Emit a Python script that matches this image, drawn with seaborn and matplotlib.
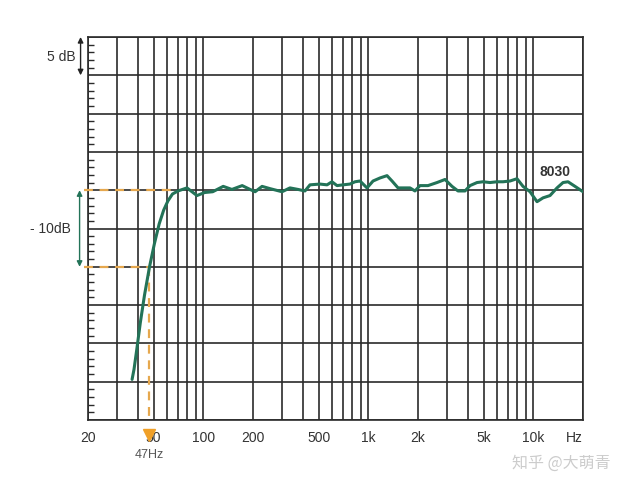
import numpy as np
import pandas as pd
import matplotlib
matplotlib.use("Agg")
import matplotlib.pyplot as plt
import seaborn as sns

# ---- data ----
freq_hz = [37, 38.0, 39.5, 41.5, 44.0, 47.2, 50.5, 54.0, 57.5, 61.0, 65.0, 70.2, 79.6, 91.5,
           102, 114, 132, 149, 172, 192, 206, 227, 254, 300, 335, 375, 413, 443,
           509, 562, 602, 646, 702, 774, 830, 890, 982, 1068, 1178, 1298, 1392,
           1514, 1789, 1917, 2056, 2299, 2608, 2916, 3215, 3496, 3854, 4133, 4558,
           4955, 5463, 6024, 6550, 7222, 7962, 8659, 9550, 10526, 11448, 12619,
           13918, 15136, 16228, 17890, 20000]
level_db = [-24.7, -23.4, -20.8, -17.3, -13.7, -10.0, -7.0, -4.4, -2.6, -1.4, -0.5, -0.1, 0.3, -0.7,
            -0.3, -0.2, 0.5, 0.1, 0.6, 0.1, -0.2, 0.5, 0.2, -0.2, 0.3, 0.1, -0.1, 0.7,
            0.8, 0.7, 1.1, 0.6, 0.7, 0.8, 1.1, 1.2, 0.3, 1.2, 1.6, 1.9, 1.2,
            0.3, 0.3, -0.1, 0.6, 0.6, 1.0, 1.4, 0.5, -0.1, -0.1, 0.6, 1.0,
            1.1, 1.0, 1.1, 1.1, 1.2, 1.5, 0.5, -0.2, -1.5, -1.0, -0.7,
            0.3, 1.0, 1.1, 0.5, -0.2]
tick_freqs = [20, 50, 100, 200, 500, 1000, 2000, 5000, 10000, 20000]
tick_labels = ["20", "50", "100", "200", "500", "1k", "2k", "5k", "10k", "Hz"]
cutoff_hz = 47
model_name = "8030"

df = pd.DataFrame({"freq": freq_hz, "db": level_db})

sns.set_style("white")
plt.rcParams["font.family"] = ["Liberation Sans", "DejaVu Sans"]

fig = plt.figure(figsize=(6.28, 4.91), dpi=100)
ax = fig.add_axes([88/628, 1-420/491, 495/628, 383/491])

GRID = "#2b2b2b"
GREEN = "#237358"
ORANGE = "#E6A84E"

ax.set_xscale("log")
ax.set_xlim(20, 20000)
ax.set_ylim(-30, 20)

# grid positions
minor_x = [v * m for m in (10, 100, 1000) for v in range(2, 10)] + [30, 40, 60, 70, 80, 90]
minor_x = sorted(set(f for f in minor_x if 20 < f < 20000 and f not in tick_freqs))
ax.set_xticks(tick_freqs)
ax.set_xticklabels(tick_labels)
ax.set_xticks(minor_x, minor=True)
ax.xaxis.set_minor_formatter(matplotlib.ticker.NullFormatter())
ax.set_yticks(np.arange(-30, 21, 5))
ax.set_yticklabels([])
ax.set_yticks(np.arange(-30, 21, 1), minor=True)
ax.grid(which="both", axis="x", color=GRID, lw=1.2)
ax.grid(which="major", axis="y", color=GRID, lw=1.2)
ax.tick_params(axis="x", which="both", length=0, pad=8, labelsize=10, labelcolor="#333333")
ax.tick_params(axis="y", which="major", length=0)
ax.tick_params(axis="y", which="minor", direction="in", length=4, width=1.0,
               color=GRID, left=True, right=False)
for lbl in ax.get_xticklabels():
    if lbl.get_text() == "Hz":
        lbl.set_horizontalalignment("right")
for s in ax.spines.values():
    s.set_color(GRID)
    s.set_linewidth(1.2)

# orange dashed guides
meet_hz = 64.6
ax.plot([19.0, meet_hz], [0, 0], ls=(0, (4, 3)), color=ORANGE, lw=1.6,
        clip_on=False, zorder=3)
ax.plot([19.0, cutoff_hz], [-10, -10], ls=(0, (4, 3)), color=ORANGE, lw=1.6,
        clip_on=False, zorder=3)
ax.plot([cutoff_hz, cutoff_hz], [-10, -30], ls=(0, (4, 3)), color=ORANGE, lw=1.6,
        clip_on=False, zorder=3)

# response curve
sns.lineplot(data=df, x="freq", y="db", ax=ax, color=GREEN, lw=2.2, zorder=4)
ax.set_xlabel("")
ax.set_ylabel("")

# triangle marker and 47Hz label
ax.plot([cutoff_hz], [-32.0], marker="v", ms=8, color="#F0A028", clip_on=False, zorder=6)
ax.text(cutoff_hz, -33.8, f"{cutoff_hz}Hz", ha="center", va="top", fontsize=9,
        color="#555555", clip_on=False)

# left arrows and labels
ax.annotate("", xy=(-0.015, 20), xytext=(-0.015, 15),
            xycoords=ax.get_yaxis_transform(), textcoords=ax.get_yaxis_transform(),
            arrowprops=dict(arrowstyle="<|-|>", color="#222222", lw=1.0,
                            shrinkA=0, shrinkB=0, mutation_scale=8))
ax.text(-0.025, 17.4, "5 dB", transform=ax.get_yaxis_transform(), ha="right",
        va="center", fontsize=10, color="#333333")
ax.annotate("", xy=(-0.017, 0), xytext=(-0.017, -10),
            xycoords=ax.get_yaxis_transform(), textcoords=ax.get_yaxis_transform(),
            arrowprops=dict(arrowstyle="<|-|>", color=GREEN, lw=1.0,
                            shrinkA=0, shrinkB=0, mutation_scale=8))
ax.text(-0.035, -5, "- 10dB", transform=ax.get_yaxis_transform(), ha="right",
        va="center", fontsize=10, color="#333333")

# model label
ax.text(13500, 2.4, model_name, ha="center", va="center", fontsize=10,
        fontweight="bold", color="#333333")

# watermark
fig.text(0.972, 1-463/491, "知乎 @大萌青", ha="right", va="center", fontsize=11.5,
         color="#cccccc", family=["Noto Sans CJK SC", "DejaVu Sans"])

fig.savefig("out.png", dpi=100, facecolor="white")
